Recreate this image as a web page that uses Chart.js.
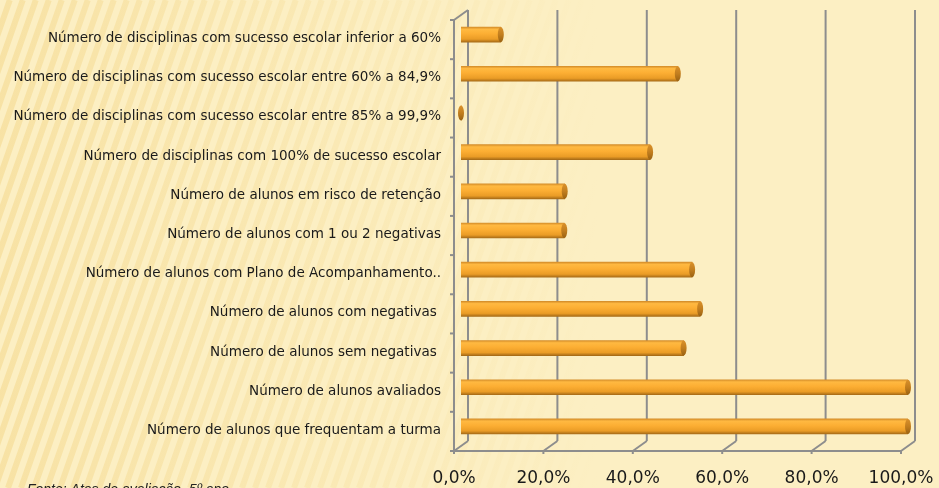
<!DOCTYPE html>
<html>
<head>
<meta charset="utf-8">
<script src="https://cdn.jsdelivr.net/npm/chart.js@4"></script>
<style>
  html, body { margin: 0; padding: 0; background: #FCEFC3; }
  #wrap { width: 939px; height: 488px; position: relative; }
</style>
</head>
<body>
<div id="wrap"><canvas id="chart" width="939" height="488"></canvas></div>
<script>
'use strict';

/* ─── DATA ───────────────────────────────────────────────── */
const categorias = [
  'Número de disciplinas com sucesso escolar inferior a 60%',
  'Número de disciplinas com sucesso escolar entre 60% a 84,9%',
  'Número de disciplinas com sucesso escolar entre 85% a 99,9%',
  'Número de disciplinas com 100% de sucesso escolar',
  'Número de alunos em risco de retenção',
  'Número de alunos com 1 ou 2 negativas',
  'Número de alunos com Plano de Acompanhamento..',
  'Número de alunos com negativas ',
  'Número de alunos sem negativas ',
  'Número de alunos avaliados',
  'Número de alunos que frequentam a turma',
];
const percentagens = [8.9, 48.5, 0, 42.3, 23.2, 23.1, 51.7, 53.5, 49.8, 100, 100];
const xTicks = [0, 20, 40, 60, 80, 100];
const fonte = 'Fonte: Atas de avaliação, 5º ano';

/* ─── 3D LOOK ────────────────────────────────────────────── */
const DX = 7, DY = 5;           // half depth of the 3D frame
const GRID = '#8D8D8D';

function line(ctx, x1, y1, x2, y2) {
  ctx.beginPath();
  ctx.moveTo(x1, y1);
  ctx.lineTo(x2, y2);
  ctx.stroke();
}

const frame3d = {
  id: 'frame3d',
  beforeDraw(chart) {
    const { ctx, width, height } = chart;
    ctx.save();
    ctx.fillStyle = '#FCEFC3';
    ctx.fillRect(0, 0, width, height);
    // diagonal stripes, strong on the left, fading to the right
    const g = ctx.createLinearGradient(0, 0, 600, 0);
    g.addColorStop(0, 'rgba(240,205,115,0.38)');
    g.addColorStop(0.5, 'rgba(240,205,115,0.2)');
    g.addColorStop(1, 'rgba(240,205,115,0)');
    ctx.strokeStyle = g;
    ctx.lineWidth = 6;
    for (let x = -200; x < 760; x += 13) {
      line(ctx, x, height, x + height * 0.35, 0);
    }
    ctx.restore();
  },
  beforeDatasetsDraw(chart) {
    const { ctx, chartArea: a, scales: { x } } = chart;
    ctx.save();
    ctx.strokeStyle = GRID;
    ctx.lineWidth = 2;
    // back wall gridlines
    xTicks.forEach(v => {
      const px = x.getPixelForValue(v) + DX;
      line(ctx, px, a.top - DY, px, a.bottom - DY);
    });
    // front floor edge + depth connectors
    const yf = a.bottom + DY;
    const xl = x.getPixelForValue(0) - DX;
    line(ctx, xl, yf, x.getPixelForValue(100) - DX, yf);
    xTicks.forEach(v => {
      const px = x.getPixelForValue(v);
      line(ctx, px - DX, yf, px + DX, a.bottom - DY);
      line(ctx, px - DX, yf, px - DX, yf + 3);
    });
    // left wall
    line(ctx, xl, a.top + DY, xl, yf);
    line(ctx, xl, a.top + DY, xl + 2 * DX, a.top - DY);
    const step = (a.bottom - a.top) / categorias.length;
    for (let i = 0; i <= categorias.length; i++) {
      const py = a.top + DY + i * step;
      line(ctx, xl - 4, py, xl, py);
    }
    ctx.restore();
  },
  afterDatasetsDraw(chart) {
    const { ctx } = chart;
    const meta = chart.getDatasetMeta(0);
    ctx.save();
    meta.data.forEach(bar => {
      const h = bar.height / 2;
      if (!Number.isFinite(bar.y) || !Number.isFinite(h)) return;
      const g = ctx.createLinearGradient(0, bar.y - h, 0, bar.y + h);
      g.addColorStop(0, '#D9902A');
      g.addColorStop(0.5, '#C27E1E');
      g.addColorStop(1, '#9A6212');
      ctx.fillStyle = g;
      ctx.beginPath();
      ctx.ellipse(bar.x, bar.y, 3, h, 0, 0, Math.PI * 2);
      ctx.fill();
    });
    ctx.restore();
  },
  afterDraw(chart) {
    const { ctx } = chart;
    ctx.save();
    ctx.font = 'italic 14px "Liberation Sans"';
    ctx.fillStyle = '#222';
    ctx.textBaseline = 'alphabetic';
    ctx.fillText(fonte, 27, 494);
    ctx.restore();
  },
};

function barFill(c) {
  const y = c.chart.scales.y;
  if (!y || c.type !== 'data') return '#FBA832';
  const cy = y.getPixelForValue(c.dataIndex);
  if (!Number.isFinite(cy)) return '#FBA832';
  const g = c.chart.ctx.createLinearGradient(0, cy - 7.5, 0, cy + 7.5);
  g.addColorStop(0, '#D58E2A');
  g.addColorStop(0.15, '#FFB941');
  g.addColorStop(0.45, '#FCAE33');
  g.addColorStop(0.8, '#EA9C26');
  g.addColorStop(1, '#A86C17');
  return g;
}

/* ─── CHART ──────────────────────────────────────────────── */
new Chart(document.getElementById('chart'), {
  type: 'bar',
  data: {
    labels: categorias,
    datasets: [{
      data: percentagens,
      backgroundColor: barFill,
      borderWidth: 0,
      barThickness: 15,
    }],
  },
  options: {
    indexAxis: 'y',
    responsive: false,
    animation: false,
    devicePixelRatio: 1,
    layout: { padding: { left: 0, top: 15, right: 31, bottom: 0 } },
    plugins: {
      legend: { display: false },
      tooltip: { enabled: false },
    },
    scales: {
      x: {
        min: 0,
        max: 100,
        afterBuildTicks: s => { s.ticks = xTicks.map(v => ({ value: v })); },
        afterFit: s => { s.height = 42; s.paddingLeft = 0; s.paddingRight = 0; },
        grid: { display: false, drawTicks: false },
        border: { display: false },
        ticks: {
          color: '#1A1A1A',
          font: { family: 'DejaVu Sans', size: 17 },
          padding: 22,
          labelOffset: -7,
          maxRotation: 0,
          callback: v => v.toFixed(1).replace('.', ',') + '%',
        },
      },
      y: {
        afterFit: s => { s.width = 461; s.paddingTop = 0; s.paddingBottom = 0; },
        grid: { display: false, drawTicks: false },
        border: { display: false },
        ticks: {
          color: '#1A1A1A',
          font: { family: 'DejaVu Sans', size: 13.5 },
          padding: 20,
          labelOffset: 4,
          autoSkip: false,
        },
      },
    },
  },
  plugins: [frame3d],
});
</script>
</body>
</html>
